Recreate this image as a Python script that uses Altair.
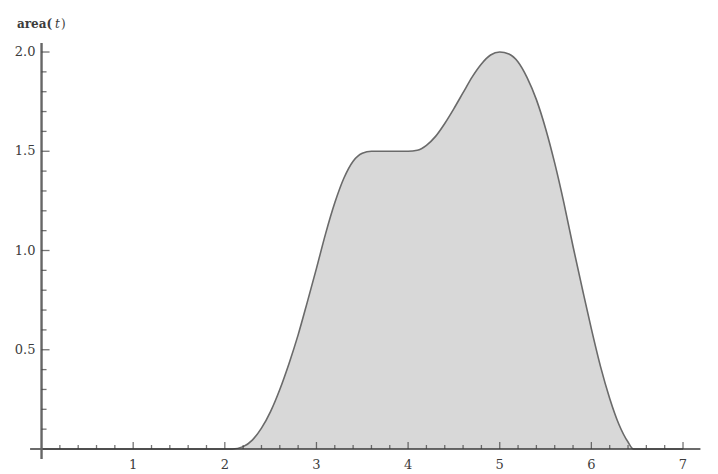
import altair as alt
import pandas as pd

# curve data
t_vals = [0.0, 2.08, 2.2, 2.3, 2.4, 2.5, 2.6, 2.7, 2.8, 2.9, 3.0, 3.1, 3.2, 3.3, 3.4, 3.5,
          3.6, 3.8, 4.0, 4.1, 4.2, 4.3, 4.4, 4.5, 4.6, 4.7, 4.8, 4.9, 5.0, 5.1, 5.2, 5.3,
          5.4, 5.5, 5.6, 5.7, 5.8, 5.9, 6.0, 6.1, 6.2, 6.3, 6.4, 6.46, 7.0]
area_vals = [0.0, 0.0, 0.012, 0.045, 0.105, 0.19, 0.30, 0.43, 0.575, 0.74, 0.91, 1.085,
             1.24, 1.365, 1.45, 1.49, 1.5, 1.5, 1.5, 1.505, 1.53, 1.575, 1.64, 1.715, 1.795,
             1.875, 1.94, 1.985, 2.0, 1.99, 1.95, 1.87, 1.76, 1.615, 1.44, 1.24, 1.02, 0.81,
             0.605, 0.415, 0.255, 0.125, 0.035, 0.0, 0.0]

x_major = [1, 2, 3, 4, 5, 6, 7]
x_minor = [round(0.2 * i, 1) for i in range(1, 36) if i % 5 != 0]
y_major = [0.5, 1.0, 1.5, 2.0]
y_major_labels = ["0.5", "1.0", "1.5", "2.0"]
y_minor = [round(0.1 * i, 1) for i in range(1, 21) if i % 5 != 0]

x_axis_extent = [-0.125, 7.19]
y_axis_extent = [-0.05, 2.045]

W, H = 696, 452
xs = alt.Scale(domain=[-0.366, 7.229], nice=False, zero=False)
ys = alt.Scale(domain=[-0.0554, 2.2217], nice=False, zero=False)

curve = pd.DataFrame({"t": t_vals, "area": area_vals})

AX = "#3a3a3a"
FONT = "DejaVu Serif"
TXT = "#3c3c3c"

area = alt.Chart(curve).mark_area(
    interpolate="monotone", color="#d8d8d8", opacity=1
).encode(
    x=alt.X("t:Q", scale=xs, axis=None),
    y=alt.Y("area:Q", scale=ys, axis=None),
)

line = alt.Chart(curve).mark_line(
    interpolate="monotone", color="#6a6a6a", strokeWidth=1.6
).encode(x=alt.X("t:Q", scale=xs), y=alt.Y("area:Q", scale=ys))

xaxis = alt.Chart(pd.DataFrame({"a": [x_axis_extent[0]], "b": [x_axis_extent[1]], "z": [0]})).mark_rule(
    color=AX, strokeWidth=1.6
).encode(x=alt.X("a:Q", scale=xs), x2="b:Q", y=alt.Y("z:Q", scale=ys))

yaxis = alt.Chart(pd.DataFrame({"a": [y_axis_extent[0]], "b": [y_axis_extent[1]], "z": [0]})).mark_rule(
    color="#666666", strokeWidth=2.4
).encode(y=alt.Y("a:Q", scale=ys), y2="b:Q", x=alt.X("z:Q", scale=xs))

xmaj = alt.Chart(pd.DataFrame({"v": x_major, "z": 0})).mark_tick(
    orient="vertical", size=7, thickness=1.3, color=AX, yOffset=-3.5
).encode(x=alt.X("v:Q", scale=xs), y=alt.Y("z:Q", scale=ys))

xmin = alt.Chart(pd.DataFrame({"v": x_minor, "z": 0})).mark_tick(
    orient="vertical", size=4, thickness=1.3, color=AX, yOffset=-2
).encode(x=alt.X("v:Q", scale=xs), y=alt.Y("z:Q", scale=ys))

ymaj = alt.Chart(pd.DataFrame({"v": y_major, "z": 0})).mark_tick(
    orient="horizontal", size=8, thickness=1.3, color=AX, xOffset=4
).encode(y=alt.Y("v:Q", scale=ys), x=alt.X("z:Q", scale=xs))

ymin = alt.Chart(pd.DataFrame({"v": y_minor, "z": 0})).mark_tick(
    orient="horizontal", size=5, thickness=1.3, color=AX, xOffset=2.5
).encode(y=alt.Y("v:Q", scale=ys), x=alt.X("z:Q", scale=xs))

xlab = alt.Chart(pd.DataFrame({"v": x_major, "z": 0, "s": [str(v) for v in x_major]})).mark_text(
    font=FONT, fontSize=13, color=TXT, baseline="middle", align="center", dy=16
).encode(x=alt.X("v:Q", scale=xs), y=alt.Y("z:Q", scale=ys), text="s:N")

ylab = alt.Chart(pd.DataFrame({"v": y_major, "z": 0, "s": y_major_labels})).mark_text(
    font=FONT, fontSize=13, color=TXT, baseline="middle", align="right", dx=-6
).encode(y=alt.Y("v:Q", scale=ys), x=alt.X("z:Q", scale=xs), text="s:N")

lbl1 = alt.Chart(pd.DataFrame({"s": ["area("]})).mark_text(
    font=FONT, fontSize=12, color=TXT, baseline="middle", align="left", fontWeight="bold"
).encode(x=alt.value(9), y=alt.value(15.5), text="s:N")
lbl2 = alt.Chart(pd.DataFrame({"s": ["t"]})).mark_text(
    font=FONT, fontSize=12, color=TXT, baseline="middle", align="left", fontStyle="italic"
).encode(x=alt.value(47), y=alt.value(15.5), text="s:N")
lbl3 = alt.Chart(pd.DataFrame({"s": [")"]})).mark_text(
    font=FONT, fontSize=12, color=TXT, baseline="middle", align="left"
).encode(x=alt.value(53), y=alt.value(15.5), text="s:N")

chart = alt.layer(area, line, xaxis, yaxis, xmaj, xmin, ymaj, ymin, xlab, ylab, lbl1, lbl2, lbl3).properties(
    width=W, height=H, padding=0
).configure_view(strokeWidth=0)

chart.save("out.html", embed_options={"renderer": "svg", "actions": False})
